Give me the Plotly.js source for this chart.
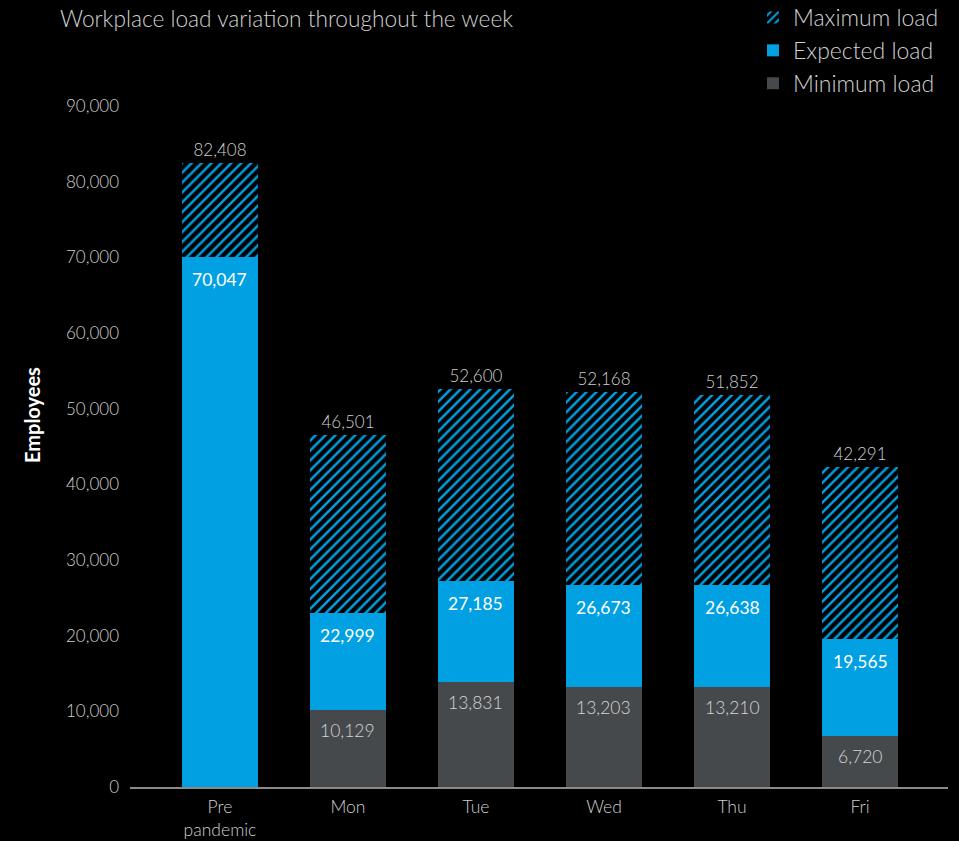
<!DOCTYPE html>
<html>
<head>
<meta charset="utf-8">
<script src="https://cdn.plot.ly/plotly-3.0.1.min.js"></script>
<style>html,body{margin:0;padding:0;background:#000;}</style>
</head>
<body>
<div id="chart" style="width:959px;height:841px;"></div>
<script>
const categories = ["Pre<br>pandemic", "Mon", "Tue", "Wed", "Thu", "Fri"];
const minimumLoad = [null, 10129, 13831, 13203, 13210, 6720];
const expectedLoad = [70047, 22999, 27185, 26673, 26638, 19565];
const maximumLoad = [82408, 46501, 52600, 52168, 51852, 42291];

const fmt = v => v == null ? "" : v.toLocaleString("en-US");
const minSeg = minimumLoad.map(v => v == null ? 0 : v);
const expSeg = expectedLoad.map((v, i) => v - minSeg[i]);
const maxSeg = maximumLoad.map((v, i) => v - expectedLoad[i]);

const FONT = "Lato, 'Open Sans', sans-serif";
const BLUE = "#00a0e2";
const GRAY = "#45494c";

const traces = [
  {
    type: "bar", name: "Minimum load", x: categories, y: minSeg,
    marker: {color: GRAY, line: {width: 0}},
    width: 0.594, hoverinfo: "skip"
  },
  {
    type: "bar", name: "Expected load", x: categories, y: expSeg,
    marker: {color: BLUE, line: {width: 0}},
    width: 0.594, hoverinfo: "skip"
  },
  {
    type: "bar", name: "Maximum load", x: categories, y: maxSeg,
    marker: {color: "#000", line: {width: 0},
      pattern: {shape: "/", fgcolor: BLUE, fgopacity: 1, bgcolor: "#000", size: 7, solidity: 0.36, fillmode: "overlay"}},
    text: maximumLoad.map(fmt), textposition: "outside",
    textfont: {family: FONT, size: 17, color: "#cfcfcf", weight: 300}, constraintext: "none",
    cliponaxis: false, width: 0.594, hoverinfo: "skip"
  }
];

const annotations = [];
expectedLoad.forEach((v, i) => {
  annotations.push({x: i, y: v, xref: "x", yref: "y", text: fmt(v), showarrow: false,
    yanchor: "top", yshift: -10, font: {family: FONT, size: 17.5, color: "#ffffff", weight: 400}});
});
minimumLoad.forEach((v, i) => {
  if (v == null) return;
  annotations.push({x: i, y: v, xref: "x", yref: "y", text: fmt(v), showarrow: false,
    yanchor: "top", yshift: -8, font: {family: FONT, size: 17.5, color: "#d6d6d6", weight: 300}});
});
annotations.push({text: "<b>Employees</b>", textangle: -90, showarrow: false,
  xref: "paper", yref: "paper", x: -98/818, y: (787 - 415) / 681, xanchor: "center", yanchor: "middle",
  font: {family: FONT, size: 20, color: "#ffffff"}});

const layout = {
  width: 959, height: 841,
  paper_bgcolor: "#000", plot_bgcolor: "#000",
  font: {family: FONT, color: "#cfcfcf", size: 17},
  barmode: "stack",
  margin: {l: 130, r: 11, t: 106, b: 54, autoexpand: false},
  title: {text: "Workplace load variation throughout the week",
    x: 60/959, xanchor: "left", xref: "container", y: 1 - 19/841, yref: "container", yanchor: "middle",
    font: {family: FONT, size: 22.7, color: "#d0d0d0", weight: 300}},
  xaxis: {
    type: "category", range: [-0.703, 5.6875],
    showgrid: false, zeroline: false, showline: true, linecolor: "#8a8a8a", linewidth: 2,
    ticks: "", ticklabelstandoff: 3,
    tickfont: {family: FONT, size: 17.5, color: "#cfcfcf", weight: 300}, fixedrange: true
  },
  yaxis: {
    range: [0, 90000], dtick: 10000, tickformat: ",",
    showgrid: false, zeroline: false, showline: false, ticks: "",
    ticklabelstandoff: 10,
    tickfont: {family: FONT, size: 17, color: "#cfcfcf", weight: 300},
    fixedrange: true
  },
  annotations: annotations,
  legend: {
    x: 1 - 4/818, xanchor: "right", y: 1 + 110/681, yanchor: "top",
    traceorder: "reversed", bgcolor: "rgba(0,0,0,0)",
    font: {family: FONT, size: 23, color: "#d0d0d0", weight: 300},
    itemwidth: 30, tracegroupgap: 0
  },
  showlegend: true
};

Plotly.newPlot("chart", traces, layout, {staticPlot: true, displayModeBar: false});
</script>
</body>
</html>
